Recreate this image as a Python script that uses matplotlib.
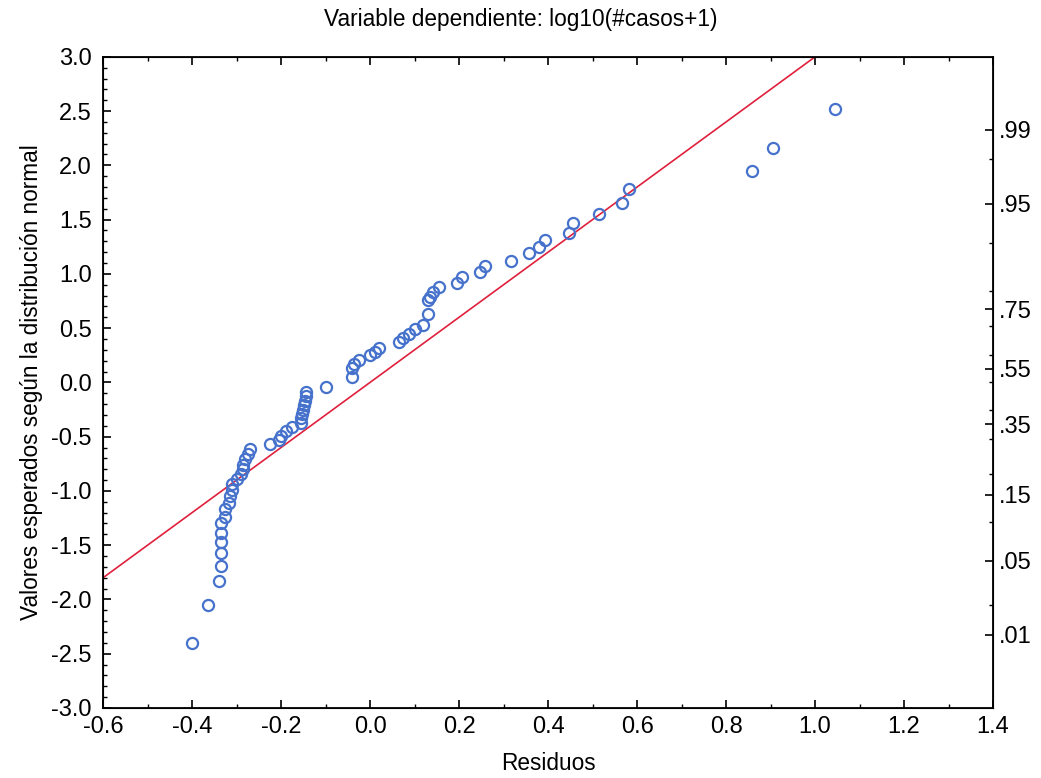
import matplotlib.pyplot as plt
from matplotlib.ticker import MultipleLocator, FixedLocator

plt.rcParams['font.family'] = ['Liberation Sans', 'DejaVu Sans']
plt.rcParams['axes.unicode_minus'] = False

# residuals (x) and expected normal values (y)
residuos = [
    -0.40, -0.365, -0.34, -0.335, -0.335, -0.335, -0.335, -0.335, -0.325, -0.325,
    -0.318, -0.315, -0.31, -0.31, -0.30, -0.29, -0.285, -0.285, -0.28, -0.275,
    -0.27, -0.225, -0.205, -0.20, -0.19, -0.175, -0.155, -0.155, -0.152, -0.15,
    -0.148, -0.146, -0.145, -0.143, -0.10, -0.04, -0.04, -0.035, -0.025, 0.0,
    0.012, 0.02, 0.065, 0.075, 0.088, 0.10, 0.12, 0.13, 0.13, 0.135,
    0.142, 0.154, 0.196, 0.206, 0.246, 0.259, 0.316, 0.356, 0.379, 0.394,
    0.448, 0.455, 0.514, 0.566, 0.581, 0.858, 0.905, 1.045,
]
esperados = [
    -2.40, -2.05, -1.83, -1.69, -1.57, -1.47, -1.39, -1.30, -1.24, -1.17,
    -1.11, -1.05, -0.99, -0.94, -0.89, -0.84, -0.80, -0.76, -0.71, -0.66,
    -0.61, -0.57, -0.53, -0.49, -0.45, -0.41, -0.37, -0.33, -0.29, -0.25,
    -0.21, -0.17, -0.13, -0.09, -0.04, 0.05, 0.13, 0.17, 0.21, 0.25,
    0.28, 0.32, 0.37, 0.41, 0.45, 0.49, 0.53, 0.63, 0.76, 0.79,
    0.83, 0.88, 0.92, 0.97, 1.02, 1.07, 1.12, 1.19, 1.25, 1.31,
    1.38, 1.47, 1.55, 1.65, 1.78, 1.95, 2.16, 2.52,
]

# reference line endpoints
linea_x = [-0.6, 1.4]
linea_y = [-1.8, 4.2]

# right axis: cumulative probabilities and their normal quantiles
prob_labels = ['.01', '.05', '.15', '.35', '.55', '.75', '.95', '.99']
prob_z = [-2.326, -1.645, -1.036, -0.385, 0.126, 0.674, 1.645, 2.326]
prob_minor_z = [-2.054, -1.282, -0.842, -0.524, -0.253, 0.0, 0.253, 0.524,
                0.842, 1.282, 2.054]


def main():
    fig = plt.figure(figsize=(10.41, 7.78), dpi=100)
    ax = fig.add_axes([0.099, 0.090, 0.855, 0.837])

    ax.plot(linea_x, linea_y, color='#e0203c', lw=1.2, zorder=2)
    ax.plot(residuos, esperados, 'o', mfc='none', mec='#4672cc', mew=1.6,
            ms=8, zorder=3, clip_on=False)

    ax.set_xlim(-0.6, 1.4)
    ax.set_ylim(-3.0, 3.0)
    ax.xaxis.set_major_locator(MultipleLocator(0.2))
    ax.xaxis.set_minor_locator(MultipleLocator(0.1))
    ax.yaxis.set_major_locator(MultipleLocator(0.5))
    ax.yaxis.set_minor_locator(MultipleLocator(0.1))
    ax.xaxis.set_major_formatter(plt.FuncFormatter(lambda v, p: f'{v:.1f}'))
    ax.yaxis.set_major_formatter(plt.FuncFormatter(lambda v, p: f'{v:.1f}'))
    ax.tick_params(which='both', direction='in', top=True, labelsize=17)
    ax.tick_params(axis='x', pad=6)
    ax.tick_params(axis='y', pad=8)
    ax.tick_params(which='major', length=6, width=1.2)
    ax.tick_params(which='minor', length=3, width=1)
    for s in ax.spines.values():
        s.set_linewidth(1.3)

    ax2 = ax.twinx()
    ax2.set_ylim(-3.0, 3.0)
    ax2.yaxis.set_major_locator(FixedLocator(prob_z))
    ax2.yaxis.set_minor_locator(FixedLocator(prob_minor_z))
    ax2.set_yticklabels(prob_labels)
    ax2.tick_params(which='both', direction='in', labelsize=17, pad=4)
    ax2.tick_params(which='major', length=6, width=1.2)
    ax2.tick_params(which='minor', length=3, width=1)

    ax.set_xlabel('Residuos', fontsize=16.3, labelpad=10)
    ax.set_ylabel('Valores esperados según la distribución normal',
                  fontsize=16.3, labelpad=6)
    fig.suptitle('Variable dependiente: log10(#casos+1)', fontsize=16.3,
                 x=0.5, y=0.99)

    fig.savefig('out.png', dpi=100)


if __name__ == "__main__":
    main()
